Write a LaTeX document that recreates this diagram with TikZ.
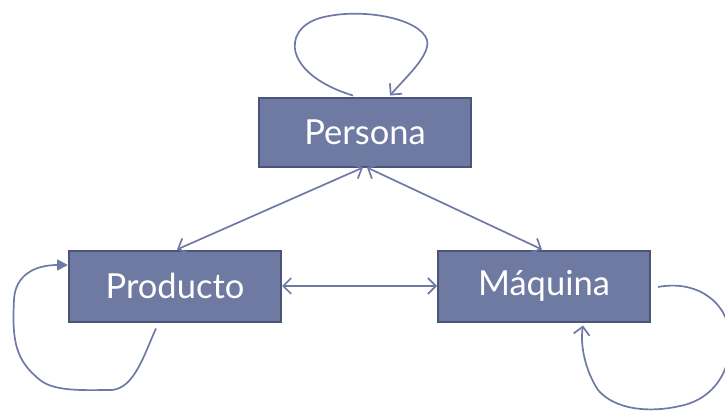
\documentclass[tikz,border=0pt]{standalone}
\usepackage{fontspec}
\setmainfont{Lato}
\usetikzlibrary{arrows.meta}
\definecolor{boxfill}{HTML}{6F7AA2}
\definecolor{boxline}{HTML}{4B5579}
\definecolor{edge}{HTML}{6E79A6}
\begin{document}
\begin{tikzpicture}[x=1pt,y=-1pt,
  entity/.style={draw=boxline,line width=2pt,fill=boxfill,minimum width=212pt,minimum height=69pt,inner sep=0pt,text=white,font=\fontsize{34.5}{38}\selectfont},
  conn/.style={draw=edge,line width=1.7pt},
  barb/.style={-{Straight Barb[length=8pt,width=16pt,line width=1.7pt]}},
  dbarb/.style={{Straight Barb[length=8pt,width=16pt,line width=1.7pt]}-{Straight Barb[length=8pt,width=16pt,line width=1.7pt]}},
  filled/.style={-{Triangle[length=11pt,width=11pt]}}]
\useasboundingbox (0,0) rectangle (725,412);
\node[entity] (P) at (365,132) {Persona};
\node[entity,minimum height=71pt] (Pr) at (175,286) {Producto};
\node[entity,minimum height=71pt] (M) at (544,286) {Máquina};
% straight connectors
\draw[conn,dbarb] ([xshift=-2pt]P.south) -- ([xshift=2pt]Pr.north);
\draw[conn,dbarb] ([xshift=2pt]P.south) -- ([xshift=-2pt]M.north);
\draw[conn,dbarb] (Pr.east) -- (M.west);
% loops
\draw[conn,barb] ([xshift=-12pt,yshift=1pt]P.north) .. controls (285,75) and (280,30) .. (320,18)
  .. controls (360,7) and (420,18) .. (427,40)
  .. controls (431,55) and (405,78) .. ([xshift=25pt,yshift=1pt]P.north);
\draw[conn,filled] ([xshift=-19pt,yshift=-6pt]Pr.south) .. controls (145,352) and (135,388) .. (112,390)
  .. controls (85,390) and (55,392) .. (40,380)
  .. controls (15,360) and (12,340) .. (14,300)
  .. controls (15,275) and (35,265) .. ([yshift=21pt]Pr.west);
\draw[conn,barb] ([xshift=7pt,yshift=-1pt]M.east) .. controls (695,280) and (722,300) .. (728,325)
  .. controls (736,360) and (720,398) .. (680,406)
  .. controls (650,413) and (615,410) .. (598,390)
  .. controls (585,370) and (580,345) .. ([xshift=39pt,yshift=-3pt]M.south);
\end{tikzpicture}
\end{document}
